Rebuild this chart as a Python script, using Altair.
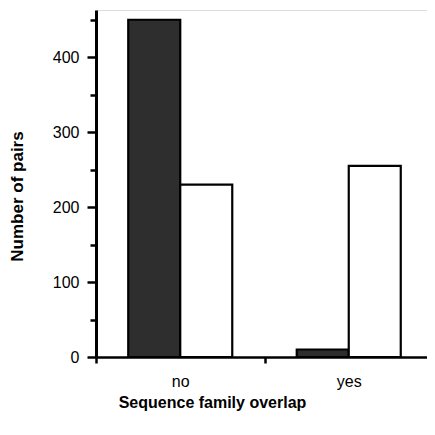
import altair as alt
import pandas as pd

categories = ["no", "yes"]
series_names = ["shaded", "open"]
shaded_values = [450, 10]
open_values = [230, 255]

rows = []
for i, c in enumerate(categories):
    rows.append({"overlap": c, "series": series_names[0], "pairs": shaded_values[i]})
    rows.append({"overlap": c, "series": series_names[1], "pairs": open_values[i]})
df = pd.DataFrame(rows)

FONT = "Liberation Sans"

chart = alt.Chart(df).mark_bar(stroke="black", strokeWidth=2.2).encode(
    x=alt.X(
        "overlap:N",
        sort=categories,
        scale=alt.Scale(paddingInner=0, paddingOuter=0),
        axis=alt.Axis(
            title="Sequence family overlap",
            tickBand="extent",
            labelAngle=0,
            labelFont=FONT,
            labelFontSize=16,
            labelPadding=10,
            labelColor="black",
            tickSize=6,
            tickWidth=2.5,
            tickColor="black",
            domainColor="black",
            domainWidth=2.5,
            titleFont=FONT,
            titleFontSize=16,
            titleFontWeight="bold",
            titleColor="black",
            titleX=116,
            titleY=45,
            titleBaseline="middle",
            titleAlign="center",
        ),
    ),
    xOffset=alt.XOffset(
        "series:N",
        sort=series_names,
        scale=alt.Scale(paddingInner=0, paddingOuter=0.62),
    ),
    y=alt.Y(
        "pairs:Q",
        scale=alt.Scale(domain=[0, 463], nice=False),
        axis=alt.Axis(
            title="Number of pairs",
            values=[0, 50, 100, 150, 200, 250, 300, 350, 400, 450],
            labelExpr="datum.value % 100 === 0 ? datum.label : ''",
            grid=False,
            labelFont=FONT,
            labelFontSize=16,
            labelPadding=8,
            labelColor="black",
            tickSize={"condition": {"test": "datum.value % 100 === 0", "value": 9}, "value": 6},
            tickWidth=2.5,
            tickColor="black",
            domainColor="black",
            domainWidth=3,
            titleFont=FONT,
            titleFontSize=17,
            titleFontWeight="bold",
            titleColor="black",
            titleAngle=-90,
            titleX=-79,
            titleY=186,
            titleBaseline="middle",
            titleAlign="center",
        ),
    ),
    color=alt.Color(
        "series:N",
        sort=series_names,
        scale=alt.Scale(domain=series_names, range=["#2e2e2e", "#ffffff"]),
        legend=None,
    ),
).properties(
    width=337,
    height=347,
    padding={"left": 88, "top": 2, "right": -6, "bottom": 70},
    autosize="none",
).configure_view(stroke=None).configure(background="white")

chart.save("out.html", embed_options={"renderer": "svg", "actions": False})
